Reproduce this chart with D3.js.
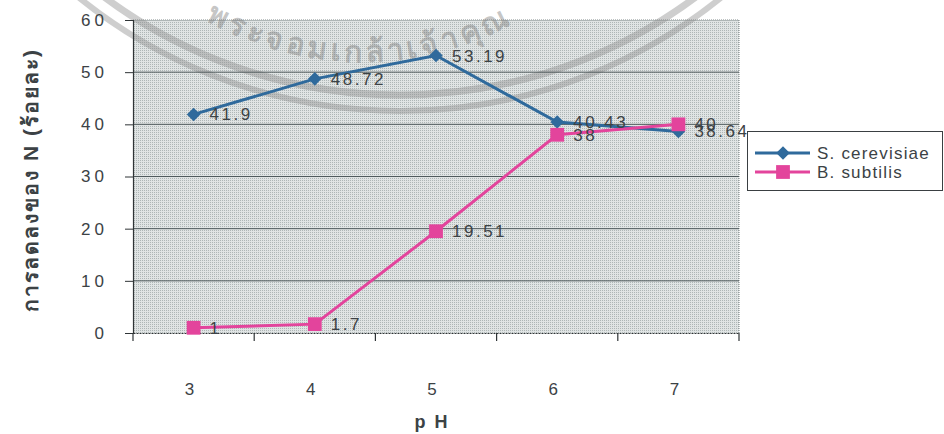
<!DOCTYPE html>
<html>
<head>
<meta charset="utf-8">
<script src="https://cdn.jsdelivr.net/npm/d3@7"></script>
<style>
  html, body { margin: 0; padding: 0; background: #ffffff; }
  svg { display: block; }
  text { font-family: "Liberation Sans", Arial, sans-serif; }
</style>
</head>
<body>
<svg id="chart" width="944" height="434"></svg>
<script>
// pH categories and reduction of N (%) for each organism
const categories = ["3", "4", "5", "6", "7"];
const sCerevisiae = [41.9, 48.72, 53.19, 40.43, 38.64];
const bSubtilis = [1, 1.7, 19.51, 38, 40];
const seriesNames = ["S. cerevisiae", "B. subtilis"];
const yTicks = [0, 10, 20, 30, 40, 50, 60];
const xTitle = "p H";
const yTitle = "การลดลงของ N (ร้อยละ)";
const sealText = "พระจอมเกล้าเจ้าคุณ";

const svg = d3.select("#chart");
const plot = { left: 133, top: 20, right: 739, bottom: 333 };

const x = d3.scaleBand().domain(categories).range([plot.left, plot.right]);
const y = d3.scaleLinear().domain([0, 60]).range([plot.bottom, plot.top]);

const blue = "#2f6a9c";
const pink = "#e3449c";
const textCol = "#3c4245";

// square diamond marker (a square turned 45 degrees)
const squareDiamond = {
  draw(ctx, size) {
    const r = Math.sqrt(size / 2);
    ctx.moveTo(0, -r); ctx.lineTo(r, 0); ctx.lineTo(0, r); ctx.lineTo(-r, 0); ctx.closePath();
  }
};

// halftone fill for the plot area
const defs = svg.append("defs");
const pat = defs.append("pattern").attr("id", "dots")
  .attr("width", 2).attr("height", 2).attr("patternUnits", "userSpaceOnUse");
pat.append("rect").attr("width", 2).attr("height", 2).attr("fill", "#e0e4e4");
pat.append("rect").attr("width", 1).attr("height", 1).attr("fill", "#aeb6b6");

svg.append("rect")
  .attr("x", plot.left).attr("y", plot.top)
  .attr("width", plot.right - plot.left).attr("height", plot.bottom - plot.top)
  .attr("fill", "url(#dots)");

// dotted border on top and right of the plot area
svg.append("path")
  .attr("d", `M${plot.left},${plot.top}H${plot.right}V${plot.bottom}`)
  .attr("fill", "none").attr("stroke", "#7d8686").attr("stroke-width", 1)
  .attr("stroke-dasharray", "1,1");

// faint circular stamp across the top
const seal = svg.append("g").attr("opacity", 0.42);
[[495, 7], [511, 6]].forEach(([r, w]) => {
  seal.append("circle").attr("cx", 400).attr("cy", -400).attr("r", r)
    .attr("fill", "none").attr("stroke", "#8c8c8c").attr("stroke-width", w);
});
const tcx = 362, tcy = -250, rt = 312;
defs.append("path").attr("id", "sealArc")
  .attr("d", `M${tcx - rt},${tcy} A${rt},${rt} 0 0 0 ${tcx + rt},${tcy}`);
// arc length from the left end of the path to the point below x = 205
const startAng = Math.acos((205 - tcx) / rt);
const offset = rt * (Math.PI - startAng);
seal.append("text")
  .attr("font-family", "'Noto Sans Thai', 'Loma', 'Garuda', 'Norasi', sans-serif")
  .attr("font-size", 30).attr("font-weight", "bold").attr("fill", "#7a7a7a")
  .attr("letter-spacing", 4)
  .append("textPath").attr("href", "#sealArc").attr("startOffset", offset)
  .text(sealText);

// horizontal gridlines
svg.append("g").selectAll("line")
  .data(yTicks.filter(d => d > 0 && d < 60))
  .join("line")
  .attr("x1", plot.left).attr("x2", plot.right)
  .attr("y1", d => y(d)).attr("y2", d => y(d))
  .attr("stroke", "#4f5a5c").attr("stroke-width", 1);

// y axis
const yAxis = svg.append("g")
  .attr("transform", `translate(${plot.left},0)`)
  .call(d3.axisLeft(y).tickValues(yTicks).tickSize(8).tickPadding(17).tickFormat(d3.format("d")));
yAxis.select(".domain").attr("stroke", "#2f3436").attr("stroke-width", 1.2);
yAxis.selectAll(".tick line").attr("stroke", "#2f3436");
yAxis.selectAll(".tick text")
  .attr("font-size", 17).attr("fill", textCol).attr("letter-spacing", 4)
  .attr("font-family", "'Liberation Sans', Arial, sans-serif");

// x axis: category labels, with tick marks at band boundaries
const xAxis = svg.append("g")
  .attr("transform", `translate(0,${plot.bottom})`)
  .call(d3.axisBottom(x).tickSize(0).tickPadding(50));
xAxis.select(".domain").attr("stroke", "#2f3436").attr("stroke-width", 1.2)
  .attr("stroke-dasharray", "2,1");
xAxis.selectAll(".tick text")
  .attr("font-size", 17).attr("fill", textCol).attr("dx", -4)
  .attr("font-family", "'Liberation Sans', Arial, sans-serif");
const bounds = categories.map(c => x(c)).concat([x.range()[1]]);
xAxis.selectAll(".bound").data(bounds).join("line").attr("class", "bound")
  .attr("x1", d => d).attr("x2", d => d).attr("y1", 0).attr("y2", 8)
  .attr("stroke", "#2f3436").attr("stroke-width", 1.2);

// axis titles
svg.append("text")
  .attr("x", 432).attr("y", 428).attr("text-anchor", "middle")
  .attr("font-size", 18).attr("font-weight", "bold").attr("fill", textCol)
  .attr("letter-spacing", 2)
  .text(xTitle);
svg.append("text")
  .attr("transform", "translate(38,180) rotate(-90)")
  .attr("text-anchor", "middle")
  .attr("font-family", "'Noto Sans Thai', 'Loma', 'Garuda', 'Norasi', 'Liberation Sans', sans-serif")
  .attr("font-size", 21).attr("font-weight", "bold").attr("fill", textCol)
  .attr("letter-spacing", 2)
  .text(yTitle);

// series lines, markers and value labels
const cx0 = d => x(d) + x.bandwidth() / 2;
const series = [
  { name: seriesNames[0], values: sCerevisiae, color: blue, shape: squareDiamond, size: 92 },
  { name: seriesNames[1], values: bSubtilis, color: pink, shape: d3.symbolSquare, size: 190 }
];
const line = d3.line().x(d => cx0(d.c)).y(d => y(d.v));

series.forEach(s => {
  const pts = categories.map((c, i) => ({ c, v: s.values[i] }));
  svg.append("path").datum(pts)
    .attr("d", line).attr("fill", "none")
    .attr("stroke", s.color).attr("stroke-width", 3);
  svg.append("g").selectAll("path").data(pts).join("path")
    .attr("transform", d => `translate(${cx0(d.c)},${y(d.v)})`)
    .attr("d", d3.symbol(s.shape, s.size))
    .attr("fill", s.color);
});

series.forEach(s => {
  const pts = categories.map((c, i) => ({ c, v: s.values[i] }));
  svg.append("g").selectAll("text").data(pts).join("text")
    .attr("x", d => cx0(d.c) + 16).attr("y", d => y(d.v) + 6)
    .attr("font-size", 17).attr("fill", textCol).attr("letter-spacing", 2.5)
    .text(d => String(d.v));
});

// legend
const lg = svg.append("g");
lg.append("rect").attr("x", 747.5).attr("y", 131.5).attr("width", 195).attr("height", 59)
  .attr("fill", "#ffffff").attr("stroke", "#3a3f42").attr("stroke-width", 1);
series.forEach((s, i) => {
  const ly = 153 + i * 19;
  lg.append("line").attr("x1", 755).attr("x2", 810).attr("y1", ly).attr("y2", ly)
    .attr("stroke", s.color).attr("stroke-width", 3);
  lg.append("path").attr("transform", `translate(783,${ly})`)
    .attr("d", d3.symbol(s.shape, s.size)).attr("fill", s.color);
  lg.append("text").attr("x", 817).attr("y", ly + 6)
    .attr("font-size", 17).attr("fill", textCol).attr("letter-spacing", 1.2)
    .text(s.name);
});
</script>
</body>
</html>
